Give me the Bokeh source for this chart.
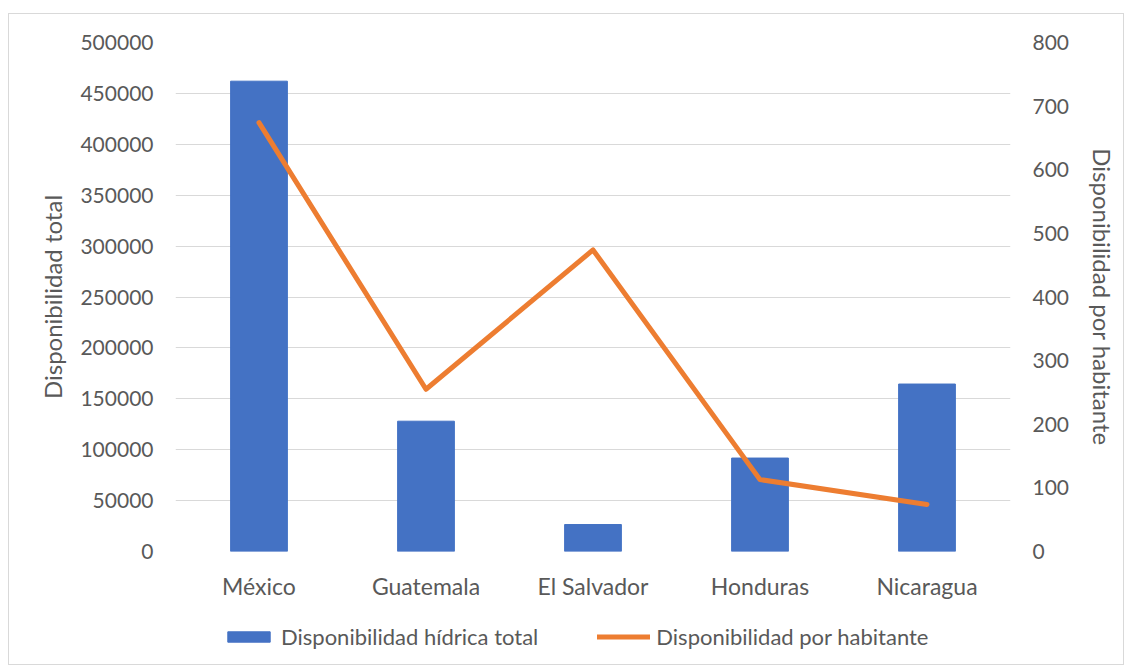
from bokeh.plotting import figure
from bokeh.layouts import column
from bokeh.models import Range1d, LinearAxis, Legend, LegendItem, FixedTicker, NumeralTickFormatter
from bokeh.embed import file_html
from bokeh.resources import INLINE

paises = ["México", "Guatemala", "El Salvador", "Honduras", "Nicaragua"]
disp_total = [462000, 128000, 26500, 91800, 164500]
disp_hab = [674, 255, 474, 113, 74]
ticks_left = [0, 50000, 100000, 150000, 200000, 250000, 300000, 350000, 400000, 450000, 500000]
ticks_right = [0, 100, 200, 300, 400, 500, 600, 700, 800]
series = ["Disponibilidad hídrica total", "Disponibilidad por habitante"]

FONT = "Lato"
TXT = "#595959"
GRID = "#d9d9d9"
BLUE = "#4472C4"
ORANGE = "#ED7D31"

p = figure(x_range=paises, y_range=Range1d(0, 500000), width=1114, height=590,
           output_backend="svg", toolbar_location=None,
           min_border_left=166, min_border_right=113, min_border_top=28, min_border_bottom=53)
p.outline_line_color = None
p.extra_y_ranges = {"right": Range1d(0, 800)}

p.vbar(x=paises, top=disp_total, width=0.34, color=BLUE)
p.line(x=paises, y=disp_hab, y_range_name="right", line_color=ORANGE,
       line_width=5, line_cap="round", line_join="round")

p.yaxis.ticker = FixedTicker(ticks=ticks_left)
p.yaxis.formatter = NumeralTickFormatter(format="0")
p.yaxis.axis_label = "Disponibilidad total"

ra = LinearAxis(y_range_name="right", ticker=FixedTicker(ticks=ticks_right),
                axis_label="Disponibilidad por habitante")
p.add_layout(ra, "right")

for ax in [p.xaxis[0], p.yaxis[0], ra]:
    ax.axis_line_color = None
    ax.major_tick_line_color = None
    ax.minor_tick_line_color = None
    ax.major_tick_out = 0
    ax.major_tick_in = 0
    ax.major_label_text_font = FONT
    ax.major_label_text_font_size = "21px"
    ax.major_label_text_color = TXT
    ax.axis_label_text_font = FONT
    ax.axis_label_text_font_size = "24px"
    ax.axis_label_text_font_style = "normal"
    ax.axis_label_text_color = TXT

p.xaxis[0].major_label_text_font_size = "23px"
p.yaxis[0].major_label_standoff = 22
p.yaxis[0].axis_label_standoff = 10
ra.major_label_standoff = 22
ra.axis_label_standoff = 16
ra.axis_label_orientation = "vertical"
p.xaxis[0].major_label_standoff = 20

p.xgrid.grid_line_color = None
p.ygrid.grid_line_color = GRID
p.ygrid.grid_line_width = 1

# legend strip (its renderers are hidden, only the legend shows)
p2 = figure(width=1114, height=60, x_range=p.x_range, y_range=Range1d(-2, -1),
            output_backend="svg", toolbar_location=None, min_border=0,
            x_axis_location=None, y_axis_location=None)
p2.outline_line_color = None
p2.grid.grid_line_color = None
lb = p2.vbar(x=paises, top=disp_total, width=0.34, color=BLUE, visible=False)
ll = p2.line(x=paises, y=disp_hab, line_color=ORANGE, line_width=5, line_cap="round", visible=False)
lg = Legend(items=[LegendItem(label=series[0], renderers=[lb]),
                   LegendItem(label=series[1], renderers=[ll])],
            location=(47, 14), orientation="horizontal",
            glyph_width=53, glyph_height=13, label_standoff=6, spacing=59, padding=0, margin=0,
            border_line_color=None, background_fill_alpha=0,
            label_text_font=FONT, label_text_font_size="22px", label_text_color=TXT)
p2.add_layout(lg, "center")

layout = column(p, p2, spacing=0)
layout.styles = {"border": "1px solid #d9d9d9", "margin-left": "8px", "margin-top": "13px"}

open("out.html", "w").write(file_html(layout, INLINE))
